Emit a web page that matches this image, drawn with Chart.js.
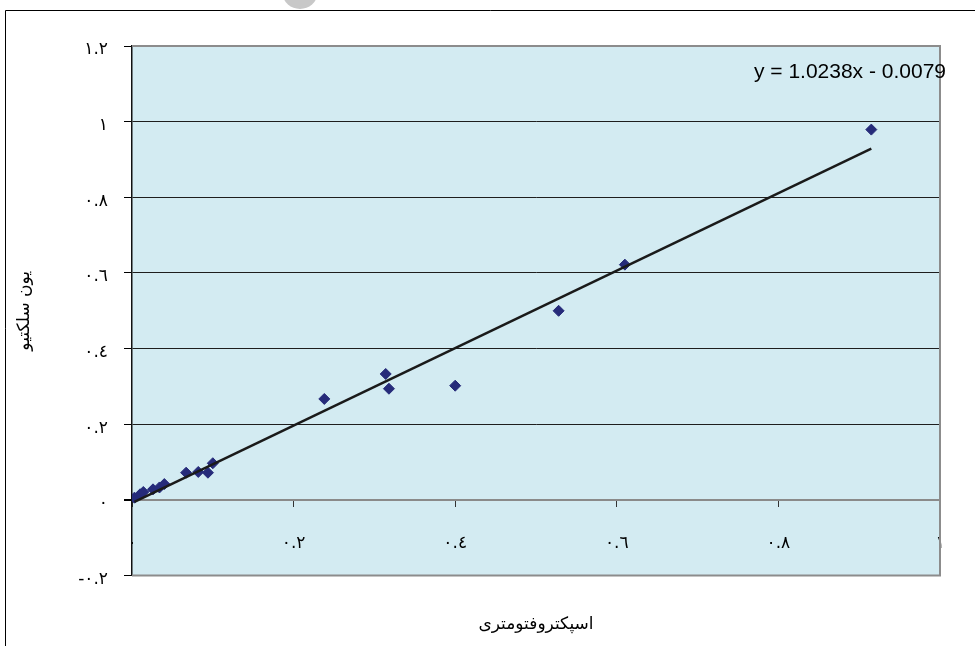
<!DOCTYPE html>
<html>
<head>
<meta charset="utf-8">
<script src="https://cdn.jsdelivr.net/npm/chart.js@4/dist/chart.umd.min.js"></script>
<style>
html,body{margin:0;padding:0;background:#ffffff;}
#wrap{width:975px;height:646px;}
</style>
</head>
<body>
<div id="wrap"><canvas id="c" width="975" height="646"></canvas></div>
<script>
// ---- data ----
const spectroX   = [0.003, 0.010, 0.014, 0.026, 0.034, 0.040, 0.067, 0.082, 0.094, 0.100, 0.238, 0.314, 0.318, 0.400, 0.528, 0.610, 0.915];
const selectiveY = [0.006, 0.015, 0.021, 0.028, 0.033, 0.042, 0.072, 0.074, 0.072, 0.097, 0.267, 0.333, 0.294, 0.302, 0.500, 0.622, 0.979];
const trendSlope = 1.0238;
const trendIntercept = -0.0079;
const equationText = 'y = 1.0238x - 0.0079';
const xTickLabels = ['٠', '٠.٢', '٠.٤', '٠.٦', '٠.٨', '١'];
const yTickLabels = ['-٠.٢', '٠', '٠.٢', '٠.٤', '٠.٦', '٠.٨', '١', '١.٢'];
const xTitle = 'اسپکتروفتومتری';
const yTitle = 'یون سلکتیو';

const points = spectroX.map((x, i) => ({x: x, y: selectiveY[i]}));
const xMin = Math.min(...spectroX), xMax = Math.max(...spectroX);
const trendPoints = [
  {x: xMin, y: trendSlope * xMin + trendIntercept},
  {x: xMax, y: trendSlope * xMax + trendIntercept}
];

const decorPlugin = {
  id: 'decor',
  beforeDraw(chart) {
    const ctx = chart.ctx, a = chart.chartArea;
    ctx.save();
    ctx.fillStyle = '#ffffff';
    ctx.fillRect(0, 0, chart.width, chart.height);
    // watermark blob at top
    ctx.fillStyle = '#c8c8c8';
    ctx.beginPath();
    ctx.ellipse(300, -6, 17, 15, 0, 0, Math.PI * 2);
    ctx.fill();
    // outer chart frame
    ctx.strokeStyle = '#000000';
    ctx.lineWidth = 1;
    ctx.beginPath();
    ctx.moveTo(5.5, chart.height + 5);
    ctx.lineTo(5.5, 10.5);
    ctx.lineTo(chart.width + 5, 10.5);
    ctx.stroke();
    // plot area fill
    ctx.fillStyle = '#d3ebf2';
    ctx.fillRect(a.left, a.top, a.right - a.left, a.bottom - a.top);
    ctx.restore();
  },
  beforeDatasetsDraw(chart) {
    const ctx = chart.ctx, a = chart.chartArea;
    ctx.save();
    ctx.strokeStyle = '#8c8c8c';
    ctx.lineWidth = 2;
    ctx.beginPath();
    ctx.moveTo(a.left, a.top);
    ctx.lineTo(a.right, a.top);
    ctx.lineTo(a.right, a.bottom);
    ctx.lineTo(a.left, a.bottom);
    ctx.stroke();
    ctx.restore();
  },
  afterDraw(chart) {
    const ctx = chart.ctx, a = chart.chartArea;
    ctx.save();
    ctx.fillStyle = '#000000';
    ctx.font = '21px "Liberation Sans", Arial, sans-serif';
    ctx.textAlign = 'right';
    ctx.textBaseline = 'middle';
    ctx.fillText(equationText, a.right + 6, a.top + 26);
    ctx.restore();
  }
};

const tickFont = {family: '"DejaVu Sans", "Noto Sans", sans-serif', size: 17};
const titleFont = {family: '"DejaVu Sans", "Noto Sans", sans-serif', size: 17};

new Chart(document.getElementById('c'), {
  data: {
    datasets: [
      {
        type: 'line',
        data: trendPoints,
        borderColor: '#1a1a1a',
        borderWidth: 2.5,
        pointRadius: 0,
        fill: false,
        order: 0
      },
      {
        type: 'scatter',
        data: points,
        pointStyle: 'rectRot',
        pointRadius: 5.5,
        backgroundColor: '#262b7a',
        borderColor: '#262b7a',
        borderWidth: 1,
        order: 1
      }
    ]
  },
  options: {
    responsive: false,
    animation: false,
    devicePixelRatio: 1,
    layout: {padding: {left: 10, right: 35, top: 46, bottom: 7}},
    plugins: {legend: {display: false}, tooltip: {enabled: false}},
    scales: {
      x: {
        type: 'linear',
        position: {y: 0},
        min: 0, max: 1,
        ticks: {
          stepSize: 0.2,
          color: '#000000',
          font: tickFont,
          padding: 27,
          maxRotation: 0,
          autoSkip: false,
          callback: (v, i) => xTickLabels[i]
        },
        grid: {drawOnChartArea: false, drawTicks: true, tickLength: 6, color: '#333333'},
        border: {display: true, color: '#8a8a8a', width: 2}
      },
      x2: {
        type: 'linear',
        position: 'bottom',
        min: 0, max: 1,
        ticks: {display: false},
        grid: {display: false},
        border: {display: false},
        title: {display: true, text: xTitle, color: '#000000', font: titleFont, padding: {top: 31, bottom: 4}}
      },
      y: {
        type: 'linear',
        position: 'left',
        min: -0.2, max: 1.2,
        afterFit(scale) { scale.width = 122; },
        ticks: {
          stepSize: 0.2,
          color: '#000000',
          font: tickFont,
          padding: 16,
          labelOffset: 4,
          callback: (v, i) => yTickLabels[i]
        },
        grid: {
          color: (c) => {
            const v = c.tick ? c.tick.value : 0;
            return (Math.abs(v) < 1e-9 || Math.abs(v + 0.2) < 1e-9 || Math.abs(v - 1.2) < 1e-9) ? '#8a8a8a' : '#1e1e1e';
          },
          lineWidth: (c) => {
            const v = c.tick ? c.tick.value : 0;
            return (Math.abs(v) < 1e-9) ? 2 : 1;
          },
          tickColor: '#000000',
          tickLength: 8,
          drawTicks: true
        },
        border: {display: true, color: '#111111', width: 1.5},
        title: {display: true, text: yTitle, color: '#000000', font: titleFont, padding: {top: 4, bottom: 4}}
      }
    }
  },
  plugins: [decorPlugin]
});
</script>
</body>
</html>
